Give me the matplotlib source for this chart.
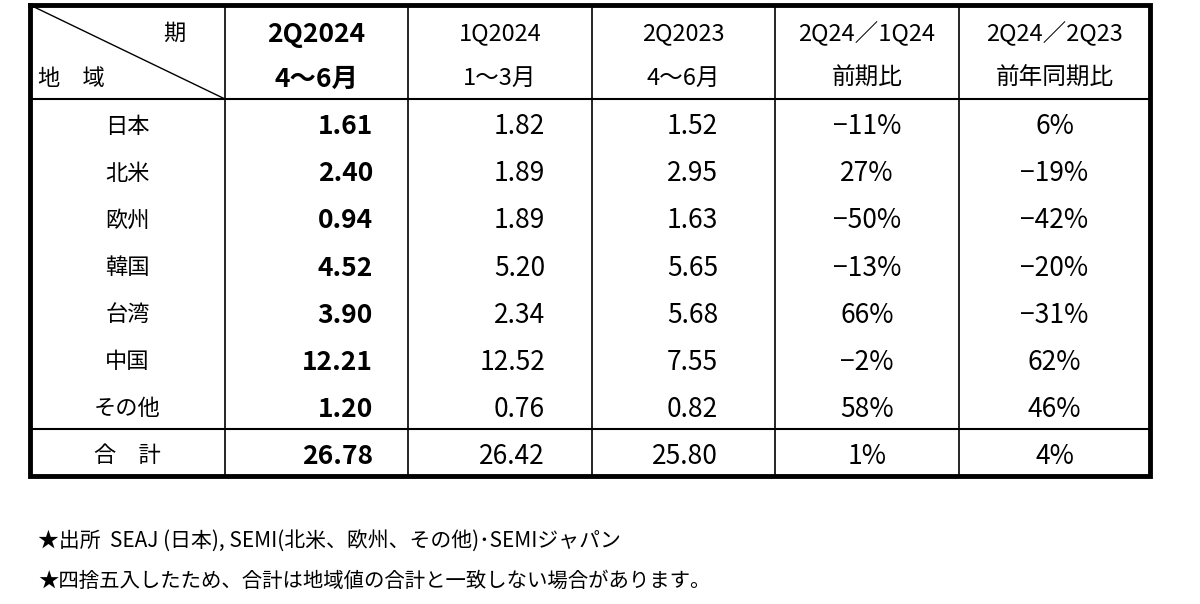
import matplotlib
matplotlib.use('Agg')
import matplotlib.pyplot as plt

plt.rcParams['font.family'] = ['Noto Sans CJK JP', 'DejaVu Sans']

regions = ['日本', '北米', '欧州', '韓国', '台湾', '中国', 'その他']
q2_2024 = [1.61, 2.40, 0.94, 4.52, 3.90, 12.21, 1.20]
q1_2024 = [1.82, 1.89, 1.89, 5.20, 2.34, 12.52, 0.76]
q2_2023 = [1.52, 2.95, 1.63, 5.65, 5.68, 7.55, 0.82]
qoq = [-11, 27, -50, -13, 66, -2, 58]
yoy = [6, -19, -42, -20, -31, 62, 46]
totals = [26.78, 26.42, 25.80]
total_qoq = 1
total_yoy = 4

header_top = ['2Q2024', '1Q2024', '2Q2023', '2Q24／1Q24', '2Q24／2Q23']
header_bottom = ['4〜6月', '1〜3月', '4〜6月', '前期比', '前年同期比']
notes = ['★出所  SEAJ (日本), SEMI(北米、欧州、その他)･SEMIジャパン',
         '★四捨五入したため、合計は地域値の合計と一致しない場合があります。']

fig = plt.figure(figsize=(12, 6.04), dpi=100)
ax = fig.add_axes([0, 0, 1, 1])
ax.set_xlim(0, 1200)
ax.set_ylim(604, 0)
ax.axis('off')

# table geometry (pixels)
col_x = [30, 225, 408, 592, 775, 959, 1150]
top, head_bot, total_top, bottom = 5, 99, 429, 476
row_h = (total_top - head_bot) / len(regions)
num_right = [373, 545, 718]

fs_num = 19
fs_jp = 16


def pct(v):
    return ('−' if v < 0 else '') + f'{abs(v)}%'


# grid lines
for x in col_x[1:-1]:
    ax.plot([x, x], [top, bottom], color='black', lw=1.2)
ax.plot([col_x[0], col_x[-1]], [head_bot, head_bot], color='black', lw=1.5)
ax.plot([col_x[0], col_x[-1]], [total_top, total_top], color='black', lw=1.5)
ax.plot([col_x[0], col_x[1]], [top, head_bot], color='black', lw=1.0)
ax.plot([col_x[0], col_x[-1], col_x[-1], col_x[0], col_x[0]],
        [top, top, bottom, bottom, top], color='black', lw=3.5,
        solid_joinstyle='miter')

# header
ax.text(185, 31, '期', ha='right', va='center_baseline', fontsize=fs_jp)
ax.text(38, 76, '地　域', ha='left', va='center_baseline', fontsize=fs_jp)
for i in range(5):
    cx = (col_x[i + 1] + col_x[i + 2]) / 2
    w = 'bold' if i == 0 else 'normal'
    fs = fs_jp + 3 if i == 0 else fs_jp + 1
    ax.text(cx, 31, header_top[i], ha='center', va='center_baseline', fontsize=fs, fontweight=w)
    ax.text(cx, 76, header_bottom[i], ha='center', va='center_baseline', fontsize=fs, fontweight=w)

# body
for r, name in enumerate(regions):
    cy = head_bot + row_h * (r + 0.5) + 1
    ax.text((col_x[0] + col_x[1]) / 2, cy, name, ha='center', va='center_baseline', fontsize=fs_jp)
    vals = [q2_2024[r], q1_2024[r], q2_2023[r]]
    for j, v in enumerate(vals):
        ax.text(num_right[j], cy, f'{v:.2f}', ha='right', va='center_baseline',
                fontsize=fs_num, fontweight='bold' if j == 0 else 'normal')
    ax.text((col_x[4] + col_x[5]) / 2, cy, pct(qoq[r]), ha='center', va='center_baseline', fontsize=fs_num)
    ax.text((col_x[5] + col_x[6]) / 2, cy, pct(yoy[r]), ha='center', va='center_baseline', fontsize=fs_num)

# total row
cy = (total_top + bottom) / 2 + 1
ax.text((col_x[0] + col_x[1]) / 2, cy, '合　計', ha='center', va='center_baseline', fontsize=fs_jp)
for j, v in enumerate(totals):
    ax.text(num_right[j], cy, f'{v:.2f}', ha='right', va='center_baseline',
            fontsize=fs_num, fontweight='bold' if j == 0 else 'normal')
ax.text((col_x[4] + col_x[5]) / 2, cy, pct(total_qoq), ha='center', va='center_baseline', fontsize=fs_num)
ax.text((col_x[5] + col_x[6]) / 2, cy, pct(total_yoy), ha='center', va='center_baseline', fontsize=fs_num)

# footnotes
ax.text(38, 538, notes[0], ha='left', va='center_baseline', fontsize=15)
ax.text(38, 579, notes[1], ha='left', va='center_baseline', fontsize=14.7)

fig.savefig('out.png', dpi=100, facecolor='white')
